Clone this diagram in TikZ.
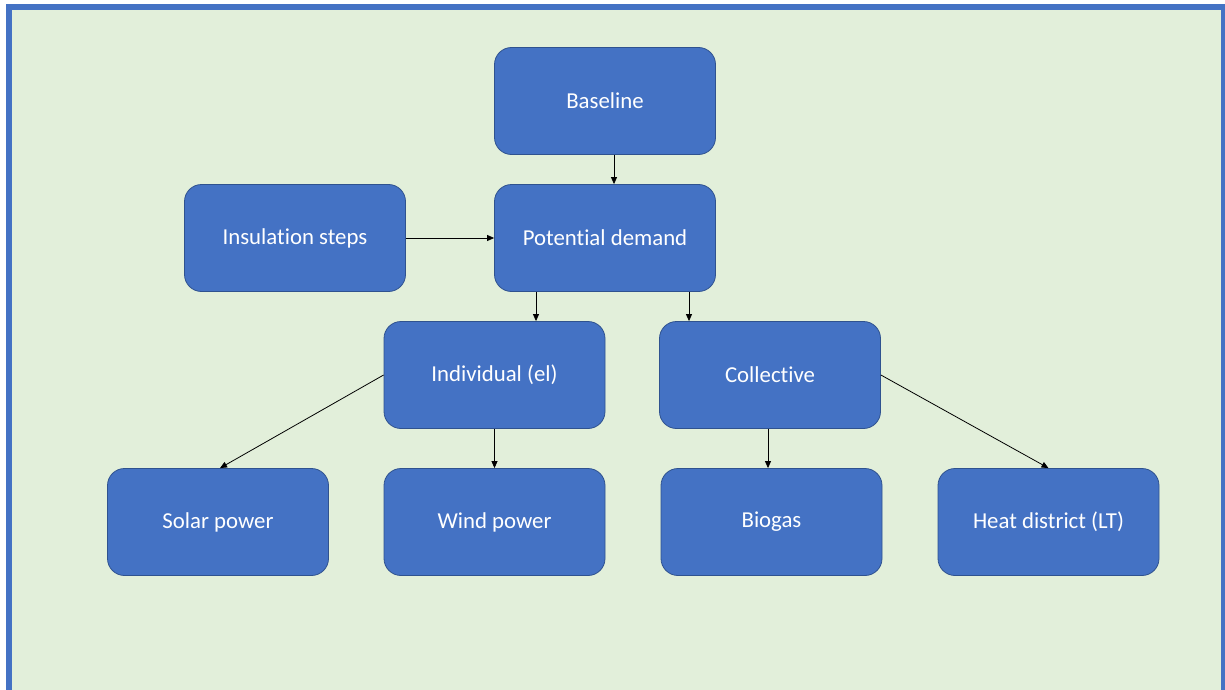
\documentclass[tikz,border=0pt]{standalone}
\usepackage{fontspec}
\setmainfont{Carlito}[Ligatures=NoCommon]
\usetikzlibrary{arrows.meta}
\definecolor{panelgreen}{HTML}{E2EFDA}
\definecolor{boxblue}{HTML}{4472C4}
\definecolor{boxedge}{HTML}{2F528F}
\tikzset{
  stepbox/.style={rectangle, rounded corners=17pt, fill=boxblue, draw=boxedge,
    line width=0.8pt, minimum width=221pt, minimum height=107pt,
    text=white, font=\fontsize{22.8}{26}\selectfont, inner sep=0pt},
  arr/.style={draw=black, line width=0.8pt, -{Triangle[length=7pt,width=6pt]}}
}
\begin{document}
\begin{tikzpicture}[x=1pt,y=-1pt]
  \useasboundingbox (0,0) rectangle (1225,690);
  \clip (0,0) rectangle (1225,690);
  \fill[white] (0,0) rectangle (1225,690);
  % framed panel
  \draw[boxblue, line width=6pt, fill=panelgreen] (9,7) rectangle (1224,720);

  % boxes
  \node[stepbox] (base) at (605,101) {Baseline};
  \node[stepbox] (pot)  at (605,238) {Potential demand};
  \node[stepbox] (ins)  at (295,238) {Insulation steps};
  \node[stepbox] (ind)  at (494.5,375) {Individual (el)};
  \node[stepbox] (col)  at (770,375) {Collective};
  \node[stepbox] (sol)  at (218,522) {Solar power};
  \node[stepbox] (wind) at (494.5,522) {Wind power};
  \node[stepbox] (bio)  at (771.5,522) {Biogas};
  \node[stepbox] (heat) at (1048.5,522) {Heat district (LT)};

  % connectors
  \draw[arr] ([xshift=9pt]base.south) -- ([xshift=9pt]pot.north);
  \draw[arr] (ins.east) -- (pot.west);
  \draw[arr] ([xshift=-69pt]pot.south) -- ([xshift=41.5pt]ind.north);
  \draw[arr] ([xshift=84pt]pot.south) -- ([xshift=-81pt]col.north);
  \draw[arr] (ind.west) -- ([xshift=2pt]sol.north);
  \draw[arr] (ind.south) -- (wind.north);
  \draw[arr] ([xshift=-2pt]col.south) -- ([xshift=-3.5pt]bio.north);
  \draw[arr] (col.east) -- (heat.north);
\end{tikzpicture}
\end{document}
